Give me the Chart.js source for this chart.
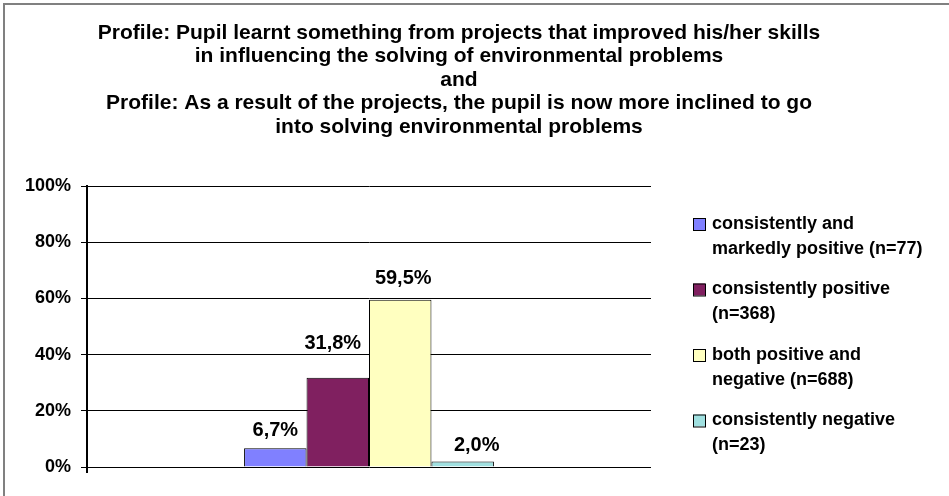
<!DOCTYPE html>
<html><head><meta charset="utf-8">
<script src="https://cdn.jsdelivr.net/npm/chart.js@4"></script>
<style>html,body{margin:0;padding:0;background:#fff;} #wrap{width:949px;height:496px;position:relative;}</style>
</head><body><div id="wrap"><canvas id="c" width="949" height="496"></canvas></div>
<script>
const titleLines = [
  'Profile: Pupil learnt something from projects that improved his/her skills',
  'in influencing the solving of environmental problems',
  'and',
  'Profile: As a result of the projects, the pupil is now more inclined to go',
  'into solving environmental problems'
];
const categories = [''];
const seriesLabels = [
  ['consistently and', 'markedly positive (n=77)'],
  ['consistently positive', '(n=368)'],
  ['both positive and', 'negative (n=688)'],
  ['consistently negative', '(n=23)']
];
const seriesValues = [6.7, 31.8, 59.5, 2.0];
const valueLabels = ['6,7%', '31,8%', '59,5%', '2,0%'];
const yMin = 0, yMax = 100, yStep = 20;

// styles
const colors = ['#8080FF', '#802060', '#FFFFC0', '#A0E0E0'];
const labelDx = [0, -5, 3, 14];
const labelDy = [18, 34, 21, 16];
const FONT = '"Liberation Sans", Arial, sans-serif';

const decor = {
  id: 'decor',
  beforeDraw(chart) {
    const ctx = chart.ctx;
    ctx.save();
    ctx.fillStyle = '#fff';
    ctx.fillRect(0, 0, chart.width, chart.height);
    ctx.fillStyle = '#808080';
    ctx.fillRect(3, 3, chart.width - 3, 2);
    ctx.fillRect(3, 3, 2, chart.height - 3);
    ctx.restore();
  },
  afterDraw(chart) {
    const ctx = chart.ctx, ca = chart.chartArea;
    ctx.save();
    ctx.fillStyle = '#000';
    // title
    ctx.font = 'bold 21px ' + FONT;
    ctx.textAlign = 'center';
    ctx.textBaseline = 'middle';
    titleLines.forEach((t, i) => ctx.fillText(t, 459, 33 + i * 23.5));
    // value labels
    ctx.font = 'bold 20px ' + FONT;
    chart.data.datasets.forEach((ds, i) => {
      const el = chart.getDatasetMeta(i).data[0];
      ctx.fillText(valueLabels[i], el.x + labelDx[i], el.y - labelDy[i]);
    });
    // y axis extension below zero
    ctx.strokeStyle = '#000';
    ctx.lineWidth = 2;
    ctx.beginPath();
    ctx.moveTo(ca.left, ca.bottom);
    ctx.lineTo(ca.left, ca.bottom + 6);
    ctx.stroke();
    // legend
    ctx.font = 'bold 18px ' + FONT;
    ctx.textAlign = 'left';
    const lx = ca.right + 42;
    chart.data.datasets.forEach((ds, i) => {
      const yc = 224 + i * 65.5;
      ctx.fillStyle = colors[i];
      ctx.fillRect(lx, yc - 6, 12, 12);
      ctx.strokeStyle = '#000';
      ctx.lineWidth = 1;
      ctx.strokeRect(lx + 0.5, yc - 5.5, 12, 12);
      ctx.fillStyle = '#000';
      ds.label.forEach((line, j) => ctx.fillText(line, lx + 19, yc + j * 25));
    });
    ctx.restore();
  }
};

new Chart(document.getElementById('c'), {
  type: 'bar',
  data: {
    labels: categories,
    datasets: seriesValues.map((v, i) => ({
      label: seriesLabels[i],
      data: [v],
      backgroundColor: colors[i],
      borderColor: '#000',
      borderWidth: 1,
      categoryPercentage: 0.443,
      barPercentage: 1
    }))
  },
  options: {
    responsive: false,
    animation: false,
    events: [],
    layout: { padding: { left: 0, top: 186, right: 298, bottom: 29 } },
    plugins: { legend: { display: false }, title: { display: false }, tooltip: { enabled: false } },
    scales: {
      x: { display: false },
      y: {
        min: yMin, max: yMax,
        ticks: { stepSize: yStep, callback: v => v + '%', color: '#000', padding: 10,
          font: { family: FONT, size: 18, weight: 'bold' } },
        grid: { color: '#000', lineWidth: 1, tickLength: 6, tickColor: '#000' },
        border: { display: true, color: '#000', width: 2 },
        afterFit(scale) { scale.width = 87; }
      }
    }
  },
  plugins: [decor]
});
</script></body></html>
